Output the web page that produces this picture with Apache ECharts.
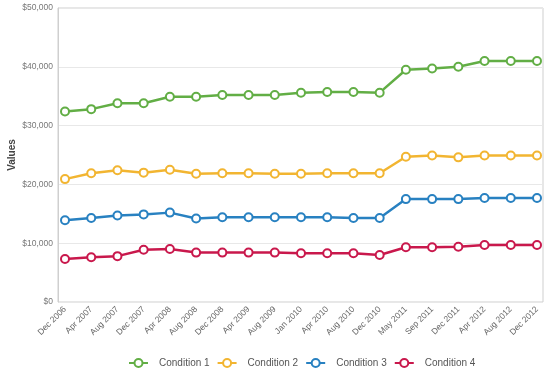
<!DOCTYPE html>
<html>
<head>
<meta charset="utf-8">
<script src="https://cdn.jsdelivr.net/npm/echarts@6/dist/echarts.min.js"></script>
<style>
  html, body { margin: 0; padding: 0; background: #fff; }
  #chart { width: 550px; height: 377px; }
</style>
</head>
<body>
<div id="chart"></div>
<script>
const categories = [
  'Dec 2006', 'Apr 2007', 'Aug 2007', 'Dec 2007', 'Apr 2008', 'Aug 2008',
  'Dec 2008', 'Apr 2009', 'Aug 2009', 'Jan 2010', 'Apr 2010', 'Aug 2010',
  'Dec 2010', 'May 2011', 'Sep 2011', 'Dec 2011', 'Apr 2012', 'Aug 2012', 'Dec 2012'
];
const condition1 = [32400, 32800, 33800, 33800, 34900, 34900, 35200, 35200, 35200, 35600,
  35700, 35700, 35600, 39500, 39700, 40000, 41000, 41000, 41000];
const condition2 = [20900, 21900, 22400, 22000, 22500, 21800, 21900, 21900, 21800, 21800,
  21900, 21900, 21900, 24700, 24900, 24600, 24900, 24900, 24900];
const condition3 = [13900, 14300, 14700, 14900, 15200, 14200, 14400, 14400, 14400, 14400,
  14400, 14300, 14300, 17500, 17500, 17500, 17700, 17700, 17700];
const condition4 = [7300, 7600, 7800, 8900, 9000, 8400, 8400, 8400, 8400, 8300,
  8300, 8300, 8000, 9300, 9300, 9400, 9700, 9700, 9700];
const seriesNames = ['Condition 1', 'Condition 2', 'Condition 3', 'Condition 4'];
const colors = ['#62ae45', '#f2b531', '#2881c1', '#c9184c'];

const chart = echarts.init(document.getElementById('chart'));

const makeSeries = (name, data, color) => ({
  name,
  type: 'line',
  xAxisIndex: 0,
  yAxisIndex: 0,
  data,
  symbol: 'circle',
  symbolSize: 8,
  lineStyle: { color, width: 2.5 },
  itemStyle: { color: '#fff', borderColor: color, borderWidth: 2 },
  emphasis: { disabled: true },
});

chart.setOption({
  animation: false,
  textStyle: { fontFamily: 'Arial, "Liberation Sans", sans-serif' },
  color: colors,
  grid: [
    // grid for the marks
    { left: 65, right: 13, top: 8, bottom: 75, outerBoundsMode: 'none' },
    // frame grid with y labels and split lines
    {
      left: 58, right: 7, top: 8, bottom: 75, outerBoundsMode: 'none',
      show: true, borderColor: '#cfcfcf', borderWidth: 1,
    },
  ],
  legend: {
    top: 358,
    left: 128,
    padding: 0,
    itemWidth: 19,
    itemHeight: 10,
    itemGap: 7,
    textStyle: { color: '#555', fontSize: 10, padding: [0, 0, 0, 6] },
    data: seriesNames,
  },
  xAxis: [
    {
      type: 'category',
      gridIndex: 0,
      data: categories,
      boundaryGap: false,
      axisLine: { show: false },
      axisTick: { show: false },
      axisLabel: { rotate: 45, fontSize: 8.5, color: '#666', margin: 6, interval: 0 },
    },
    {
      type: 'value',
      gridIndex: 1,
      min: 0,
      max: 1,
      show: false,
    },
  ],
  yAxis: [
    {
      type: 'value',
      gridIndex: 0,
      min: 0,
      max: 50000,
      show: false,
    },
    {
      type: 'value',
      gridIndex: 1,
      min: 0,
      max: 50000,
      interval: 10000,
      name: 'Values',
      nameLocation: 'middle',
      nameMoveOverlap: false,
      nameGap: 41,
      nameTextStyle: { fontWeight: 'bold', fontSize: 10, color: '#444' },
      axisLine: { show: true, lineStyle: { color: '#cfcfcf' } },
      axisTick: { show: false },
      axisLabel: {
        fontSize: 8.5,
        color: '#777',
        margin: 5,
        formatter: v => '$' + v.toLocaleString('en-US'),
      },
      splitLine: { lineStyle: { color: '#e8e8e8' } },
    },
  ],
  series: [
    makeSeries(seriesNames[0], condition1, colors[0]),
    makeSeries(seriesNames[1], condition2, colors[1]),
    makeSeries(seriesNames[2], condition3, colors[2]),
    makeSeries(seriesNames[3], condition4, colors[3]),
  ],
});
</script>
</body>
</html>
